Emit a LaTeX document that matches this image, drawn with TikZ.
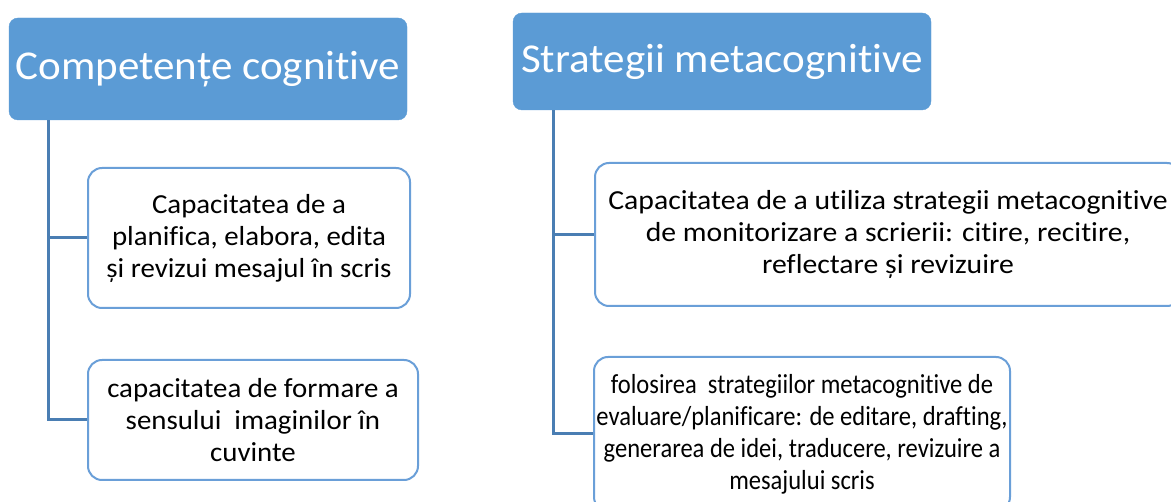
\documentclass[tikz,border=0pt]{standalone}
\usepackage{fontspec}
\setmainfont{Carlito}[FakeStretch=1.05,RawFeature=-liga]
\newfontfamily\wideface{Carlito}[FakeStretch=1.08,RawFeature=-liga]
\newfontfamily\narrowface{Carlito}[FakeStretch=0.893,RawFeature=-liga]
\definecolor{hdrfill}{HTML}{5B9BD5}
\definecolor{boxline}{HTML}{6A9FD8}
\definecolor{conn}{HTML}{4A7EB3}
\begin{document}
\begin{tikzpicture}[x=1pt,y=-1pt,
  header/.style={draw=hdrfill,fill=hdrfill,rounded corners=9pt,text=white,
    font=\fontsize{41}{48}\selectfont,inner sep=0pt},
  item/.style={draw=boxline,line width=2pt,fill=white,rounded corners=14pt,
    align=center,font=\fontsize{27.5}{32}\selectfont,inner sep=0pt},
  link/.style={draw=conn,line width=3pt}]
\useasboundingbox (0,0) rectangle (1171,502);
% headers
\node[header,minimum width=398pt,minimum height=102pt] (h1) at (208,69) {Competențe cognitive};
\node[header,minimum width=418pt,minimum height=97pt] (h2) at (722,61.5) {Strategii metacognitive};
% left items
\node[item,minimum width=322pt,minimum height=140pt] (a1) at (249,238) {Capacitatea de a\\planifica, elabora, edita\\și revizui mesajul în scris};
\node[item,minimum width=330pt,minimum height=120pt] (a2) at (253,420) {capacitatea de formare a\\sensului\ \ imaginilor în\\cuvinte};
% right items
\node[item,font=\wideface\fontsize{27.5}{32}\selectfont,minimum width=586pt,minimum height=143pt] (b1) at (888,234.5) {Capacitatea de a utiliza strategii metacognitive\\de monitorizare a scrierii: citire, recitire,\\reflectare și revizuire};
\node[item,font=\narrowface\fontsize{27.5}{32}\selectfont,minimum width=416pt,minimum height=154pt] (b2) at (802,434) {folosirea\ \ strategiilor metacognitive de\\evaluare/planificare: de editare, drafting,\\generarea de idei, traducere, revizuire a\\mesajului scris};
% connectors
\coordinate (l0) at (48.5,0);
\draw[link] (h1.south -| l0) |- (a2.west);
\draw[link] (l0 |- a1.west) -- (a1.west);
\coordinate (r0) at (553,0);
\draw[link] (h2.south -| r0) |- (b2.west);
\draw[link] (r0 |- b1.west) -- (b1.west);
\end{tikzpicture}
\end{document}
